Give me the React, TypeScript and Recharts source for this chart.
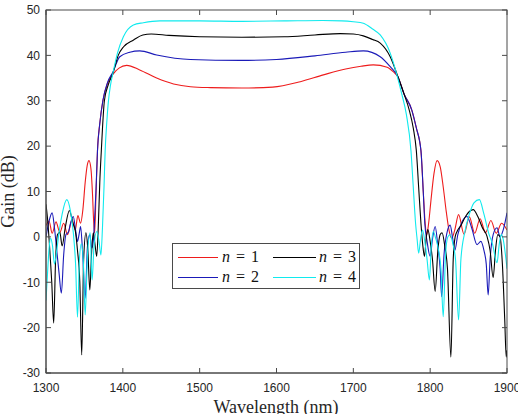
import React from 'react';
import { LineChart, Line, XAxis, YAxis } from 'recharts';

// Axis ticks
const wavelengthTicks = [1300, 1400, 1500, 1600, 1700, 1800, 1900];
const gainTicks = [-30, -20, -10, 0, 10, 20, 30, 40, 50];

// n = 1
const n1Wavelength = [
  1300, 1304, 1308, 1313, 1318, 1323, 1328, 1334, 1338, 1341.5, 1345, 1348, 1351, 1353.5, 1356,
  1358.5, 1360.5, 1362, 1363.3, 1365, 1367, 1370, 1374, 1380, 1387, 1395, 1405, 1422, 1444, 1466,
  1488, 1514, 1555, 1595, 1631, 1661, 1690, 1710, 1726, 1744, 1752, 1758, 1766, 1776, 1782, 1788,
  1791, 1793.5, 1795.5, 1798, 1801, 1805, 1809, 1813, 1817, 1821, 1824.5, 1828, 1832, 1837, 1844,
  1851, 1858, 1865, 1872, 1879, 1886, 1893, 1900,
];
const n1Gain = [
  2.5, 3.5, 0.8, 3.3, 1.0, 3.0, 0.5, 3.8, 1.5, 4.7, 3.0, 6.0, 12.0, 15.6, 16.8,
  15.0, 9.5, 3.5, 0.8, 9.0, 19.0, 25.0, 30.0, 33.8, 35.8, 37.2, 37.8, 36.8, 35.0, 33.7,
  33.1, 32.9, 32.8, 33.0, 34.2, 35.7, 37.0, 37.6, 37.9, 37.4, 36.4, 35.3, 31.5, 28.0, 24.0, 19.0,
  10.0, 3.0, 0.5, 3.0, 8.0, 14.0, 16.8, 15.5, 11.0, 5.5, 1.5, -0.3, 1.5, 4.9, 0.6,
  4.4, 0.8, 4.0, 0.9, 3.6, 0.8, 3.0, 1.5,
];

// n = 2
const n2Wavelength = [
  1300, 1304, 1308, 1311, 1314, 1317, 1320, 1323, 1326, 1329, 1332, 1335.5, 1338.5, 1341, 1343,
  1345, 1347.5, 1351, 1354, 1357, 1359.5, 1361.5, 1363, 1365, 1367, 1370, 1374, 1380, 1387, 1396,
  1409, 1422, 1444, 1488, 1553, 1600, 1650, 1690, 1713, 1735, 1748, 1758, 1766, 1776, 1782, 1788,
  1791, 1793, 1796, 1800, 1803, 1806.5, 1810, 1813, 1815, 1818, 1822, 1826, 1829, 1832, 1836, 1842,
  1848, 1854, 1861, 1866, 1870, 1873, 1875.5, 1878, 1882, 1887, 1891, 1895, 1900,
];
const n2Gain = [
  0.0, 3.5, 5.3, 2.0, -3.0, -8.0, -12.4, -4.0, 0.5, 1.0, 3.0, 4.5, 1.5, -1.0, 0.5,
  2.3, -3.0, -13.5, -2.0, 0.5, -2.5, -1.0, 3.0, 10.0, 19.0, 25.0, 30.0, 34.0, 36.3, 39.7,
  40.7, 41.0, 40.1, 39.1, 38.9, 39.1, 39.9, 40.7, 41.0, 39.7, 37.5, 35.3, 31.5, 28.0, 24.0, 19.0,
  10.0, 3.0, -1.0, -4.3, -0.5, 2.3, -2.0, -7.0, -13.2, -4.0, 1.0, 2.6, 0.0, -3.0, 0.5, 3.5,
  4.5, 2.0, -1.7, -1.0, -3.0, -6.0, -12.8, -5.0, 0.5, 2.0, 0.0, 1.5, 5.3,
];

// n = 3
const n3Wavelength = [
  1300, 1302, 1305, 1307.5, 1310, 1312.5, 1315, 1318, 1321, 1325, 1330.5, 1335, 1338, 1341, 1344,
  1346.5, 1349, 1352, 1354.5, 1357, 1359.5, 1361.5, 1364, 1366, 1368, 1370, 1372, 1376, 1381, 1387,
  1394, 1401, 1414, 1426, 1437, 1460, 1500, 1555, 1610, 1650, 1683, 1700, 1713, 1725, 1735, 1748,
  1758, 1766, 1772.7, 1778, 1782, 1785, 1788, 1790.5, 1792.6, 1795, 1797, 1800, 1803, 1806.5, 1810,
  1813, 1815.5, 1819, 1822.5, 1827, 1830, 1832.5, 1835, 1840, 1846, 1851, 1856, 1862, 1868, 1874,
  1878, 1882, 1885, 1888, 1891, 1894, 1897, 1899, 1900,
];
const n3Gain = [
  7.2, 4.0, -3.0, -10.0, -19.0, -5.0, 0.5, 1.0, -2.0, 2.0, 5.8, 3.0, 1.5, -3.0, -10.0,
  -26.0, -5.0, 0.9, -3.0, -11.7, -3.0, 0.9, -2.0, -4.3, 2.0, 12.0, 19.0, 30.0, 33.5, 36.0,
  40.0, 41.9, 43.4, 44.5, 44.7, 44.4, 44.1, 44.0, 44.1, 44.5, 44.8, 44.7, 44.3, 43.5, 42.7, 39.7,
  35.3, 31.5, 28.0, 24.0, 19.0, 11.0, 3.0, -2.0, -4.3, 0.0, 1.6, -1.0, -5.0, -12.0, -3.0,
  0.5, 0.9, -2.0, -7.0, -26.5, -5.0, 0.0, 1.2, 2.5, 4.5, 5.6, 6.0, 4.5, 2.0, 0.1,
  -3.0, -9.0, -3.0, 0.5, 0.0, -6.0, -18.0, -26.5, -25.0,
];

// n = 4
const n4Wavelength = [
  1300, 1302, 1304, 1306, 1308.5, 1311, 1314, 1317, 1321, 1327, 1332, 1335.5, 1338.5, 1341, 1343.5,
  1346, 1348.5, 1351, 1354, 1357.5, 1360, 1362.5, 1366, 1369, 1371.5, 1373.5, 1375.5, 1377, 1379, 1381,
  1384, 1387, 1393, 1400.7, 1413.7, 1426.7, 1448, 1500, 1555, 1610, 1660, 1685, 1700, 1713, 1725,
  1735, 1748, 1757, 1763, 1769, 1775, 1778, 1781, 1783, 1785, 1787.5, 1790, 1793, 1796, 1799,
  1801.5, 1804, 1807.5, 1811, 1814, 1817, 1820, 1823, 1826, 1829.5, 1833, 1837, 1840, 1845, 1851,
  1857, 1864, 1870, 1876, 1881, 1887, 1890, 1892.5, 1895, 1898, 1900,
];
const n4Gain = [
  -14.0, -8.0, -2.5, -0.3, -2.0, -6.0, -3.0, 1.0, 5.0, 8.2, 5.5, 1.0, -6.0, -17.7, -5.0,
  -1.5, -5.0, -17.2, -4.0, 0.9, -9.5, -2.0, 1.2, -1.0, -4.0, 2.0, 11.0, 19.0, 25.0, 29.5,
  33.5, 36.0, 40.5, 44.1, 46.7, 47.2, 47.6, 47.6, 47.5, 47.6, 47.7, 47.6, 47.4, 47.1, 45.8,
  44.5, 40.5, 35.5, 31.5, 27.0, 19.0, 11.0, 3.0, -0.5, -3.6, -0.5, 1.5, -1.0, -5.0, -9.5,
  -2.0, 1.2, -0.5, -3.0, -7.0, -17.6, -4.0, 0.0, 0.5, -1.5, -5.0, -18.3, -5.0, 1.0, 5.0,
  7.5, 8.2, 5.0, 0.9, -1.5, -5.7, -1.5, 0.5, -0.5, -4.0, -7.0,
];

const toPoints = (wl: number[], gain: number[]) => wl.map((w, i) => ({ wl: w, gain: gain[i] }));

const series = [
  { label: '1', color: '#ee1c1c', data: toPoints(n1Wavelength, n1Gain) },
  { label: '2', color: '#1a1ab8', data: toPoints(n2Wavelength, n2Gain) },
  { label: '3', color: '#000000', data: toPoints(n3Wavelength, n3Gain) },
  { label: '4', color: '#10eaee', data: toPoints(n4Wavelength, n4Gain) },
];

const CHART_W = 518;
const CHART_H = 414;
const MARGIN = { top: 10, right: 11, bottom: 0, left: 0 };
const Y_AXIS_W = 46;
const X_AXIS_H = 41;
const TICK_LEN = 5;
const PLOT_W = CHART_W - MARGIN.left - MARGIN.right - Y_AXIS_W;
const PLOT_H = CHART_H - MARGIN.top - MARGIN.bottom - X_AXIS_H;

const axisColor = '#4a4a4a';
const tickFill = '#262626';
const sansFont = '"Liberation Sans", Arial, sans-serif';
const serif = '"Liberation Serif", "Times New Roman", serif';

// Bottom tick label plus the matching inward tick on the top frame edge
function WavelengthTick(props: any) {
  const { x, y, payload } = props;
  const top = MARGIN.top;
  return (
    <g>
      <line x1={x} x2={x} y1={top} y2={top + TICK_LEN} stroke={axisColor} strokeWidth={1} />
      <text x={x} y={y} dy="0.71em" textAnchor="middle" fill={tickFill} fontSize={12} fontFamily={sansFont}>
        {payload.value}
      </text>
    </g>
  );
}

// Left tick label plus the matching inward tick on the right frame edge
function GainTick(props: any) {
  const { x, y, payload } = props;
  const right = CHART_W - MARGIN.right;
  return (
    <g>
      <line x1={right - TICK_LEN} x2={right} y1={y} y2={y} stroke={axisColor} strokeWidth={1} />
      <text x={x} y={y} dy="0.355em" textAnchor="end" fill={tickFill} fontSize={12} fontFamily={sansFont}>
        {payload.value}
      </text>
    </g>
  );
}

// Legend order: two columns, n = 1 / n = 2 on the left, n = 3 / n = 4 on the right
const legendLayout = [
  { idx: 0, col: 0, row: 0 },
  { idx: 2, col: 1, row: 0 },
  { idx: 1, col: 0, row: 1 },
  { idx: 3, col: 1, row: 1 },
];

function LegendBox() {
  const rowY = [14, 33.5];
  const lineX = [5, 100];
  const lineW = [40, 43];
  const textX = [49, 146];
  return (
    <div
      style={{
        position: 'absolute',
        left: 172,
        top: 243,
        width: 188,
        height: 46,
        border: `1px solid ${axisColor}`,
        background: '#fff',
        boxSizing: 'border-box',
        fontFamily: serif,
        fontSize: 16,
        color: '#111',
      }}
    >
      {legendLayout.map(({ idx, col, row }) => (
        <React.Fragment key={idx}>
          <div
            style={{
              position: 'absolute',
              left: lineX[col],
              top: rowY[row] - 1,
              width: lineW[col],
              height: 0,
              borderTop: `1.2px solid ${series[idx].color}`,
            }}
          />
          <div
            style={{
              position: 'absolute',
              left: textX[col],
              top: rowY[row] - 10,
              height: 18,
              lineHeight: '18px',
              whiteSpace: 'nowrap',
            }}
          >
            <i>n</i>
            <span style={{ margin: '0 6px' }}>=</span>
            {series[idx].label}
          </div>
        </React.Fragment>
      ))}
    </div>
  );
}

export default function App() {
  const plotLeft = MARGIN.left + Y_AXIS_W;
  const plotTop = MARGIN.top;
  return (
    <div
      style={{
        position: 'absolute',
        left: 0,
        top: 0,
        width: CHART_W,
        height: CHART_H,
        background: '#fff',
        overflow: 'hidden',
      }}
    >
      <LineChart width={CHART_W} height={CHART_H} margin={MARGIN}>
        <XAxis
          type="number"
          dataKey="wl"
          domain={[1300, 1900]}
          ticks={wavelengthTicks}
          interval={0}
          height={X_AXIS_H}
          tickSize={-TICK_LEN}
          tickMargin={15}
          stroke={axisColor}
          tick={<WavelengthTick />}
          allowDataOverflow
        />
        <YAxis
          type="number"
          domain={[-30, 50]}
          ticks={gainTicks}
          interval={0}
          width={Y_AXIS_W}
          tickSize={-TICK_LEN}
          tickMargin={11}
          stroke={axisColor}
          tick={<GainTick />}
          allowDataOverflow
        />
        {series.map((s) => (
          <Line
            key={s.label}
            data={s.data}
            dataKey="gain"
            type="monotone"
            stroke={s.color}
            strokeWidth={1.1}
            dot={false}
            activeDot={false}
            isAnimationActive={false}
          />
        ))}
      </LineChart>
      <svg
        width={CHART_W}
        height={CHART_H}
        style={{ position: 'absolute', left: 0, top: 0, pointerEvents: 'none' }}
      >
        {/* axes box outline */}
        <rect
          x={plotLeft}
          y={plotTop}
          width={PLOT_W}
          height={PLOT_H}
          fill="none"
          stroke={axisColor}
          strokeWidth={1}
        />
        <text
          transform="rotate(-90)"
          x={-191.5}
          y={14}
          textAnchor="middle"
          fontFamily={serif}
          fontSize={18}
          fill={tickFill}
        >
          Gain (dB)
        </text>
        <text x={276} y={412.5} textAnchor="middle" fontFamily={serif} fontSize={18} fill={tickFill}>
          Wavelength (nm)
        </text>
      </svg>
      <LegendBox />
    </div>
  );
}
